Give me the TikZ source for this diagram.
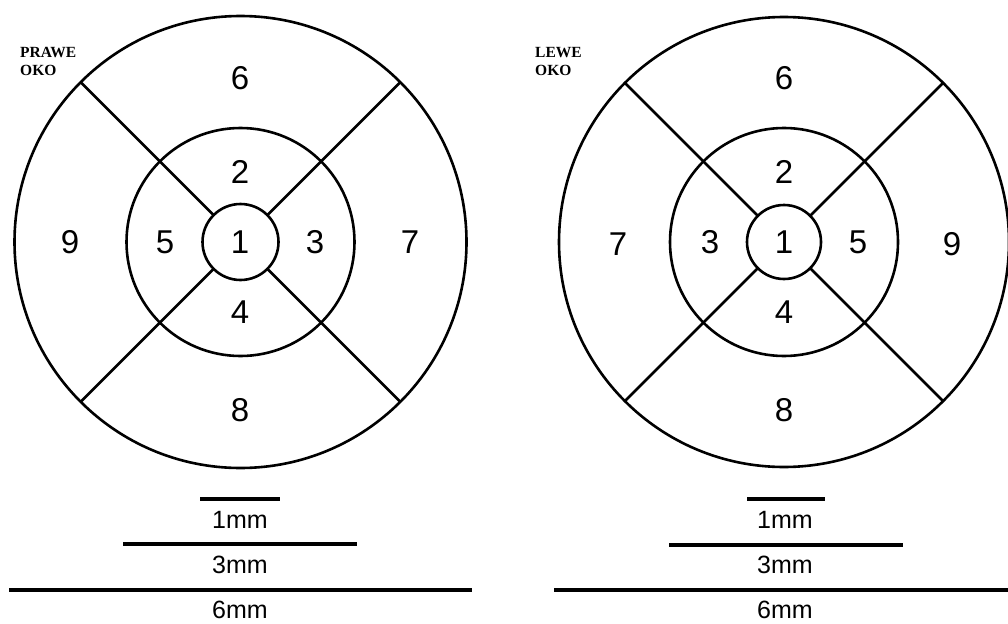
\documentclass[tikz,border=0pt]{standalone}
\usepackage{fontspec}
\setmainfont{Liberation Sans}
\newfontfamily\eyefont{Liberation Serif}
\usetikzlibrary{positioning}
\tikzset{
  ring/.style={draw, circle, line width=2.6pt, inner sep=0pt, outer sep=0pt},
  num/.style={font=\fontsize{33}{33}\selectfont, inner sep=0pt},
  bar/.style={line width=3.2pt},
  mmlab/.style={font=\fontsize{25}{25}\selectfont, inner sep=0pt},
  eyelab/.style={font=\eyefont\bfseries\fontsize{15.5}{18}\selectfont, align=left, anchor=north west, inner sep=0pt},
  spoke/.style={line width=2.6pt}
}

\begin{document}
\begin{tikzpicture}[x=1pt, y=-1pt]
\useasboundingbox (0,0) rectangle (1008,623);

% prawe oko
\node[ring, minimum size=76pt]  (Rc) at (240.5,242) {};
\node[ring, minimum size=228pt] (Rm) at (240.5,242) {};
\node[ring, minimum size=452pt] (Ro) at (240.5,242) {};
\foreach \a in {45,135,225,315}
  \draw[spoke] (Rc.\a) -- (Ro.\a);
\node[eyelab] (Rname) at (20,47) {PRAWE\\OKO};
\node[num] (R1) at (240,242) {1};
\node[num] (R2) at (240,172) {2};
\node[num] (R3) at (315,242) {3};
\node[num] (R4) at (240,312) {4};
\node[num] (R5) at (165,242) {5};
\node[num] (R6) at (240,78) {6};
\node[num] (R7) at (410,242) {7};
\node[num] (R8) at (240,410) {8};
\node[num] (R9) at (70,242) {9};

% lewe oko
\node[ring, minimum size=74pt]  (Lc) at (784,242) {};
\node[ring, minimum size=228pt] (Lm) at (784,242) {};
\node[ring, minimum size=450pt] (Lo) at (784,242) {};
\foreach \a in {45,135,225,315}
  \draw[spoke] (Lc.\a) -- (Lo.\a);
\node[eyelab] (Lname) at (535,47) {LEWE\\OKO};
\node[num] (L1) at (784,242) {1};
\node[num] (L2) at (784,172) {2};
\node[num] (L3) at (710,242) {3};
\node[num] (L4) at (784,312) {4};
\node[num] (L5) at (858,242) {5};
\node[num] (L6) at (784,78) {6};
\node[num] (L7) at (618,244) {7};
\node[num] (L8) at (784,410) {8};
\node[num] (L9) at (952,244) {9};

% skale
\coordinate (Ra1) at (200,499); \coordinate (Rb1) at (280,499);
\coordinate (Ra3) at (123,544); \coordinate (Rb3) at (357,544);
\coordinate (Ra6) at (9,590);   \coordinate (Rb6) at (472,590);
\draw[bar] (Ra1) -- (Rb1);
\draw[bar] (Ra3) -- (Rb3);
\draw[bar] (Ra6) -- (Rb6);
\node[mmlab] (Rs1) at (240,520) {1mm};
\node[mmlab] (Rs3) at (240,565) {3mm};
\node[mmlab] (Rs6) at (240,610) {6mm};

\coordinate (La1) at (747,499); \coordinate (Lb1) at (825,499);
\coordinate (La3) at (669,545); \coordinate (Lb3) at (903,545);
\coordinate (La6) at (554,590); \coordinate (Lb6) at (1008,590);
\draw[bar] (La1) -- (Lb1);
\draw[bar] (La3) -- (Lb3);
\draw[bar] (La6) -- (Lb6);
\node[mmlab] (Ls1) at (785,520) {1mm};
\node[mmlab] (Ls3) at (785,565) {3mm};
\node[mmlab] (Ls6) at (785,610) {6mm};
\end{tikzpicture}
\end{document}
